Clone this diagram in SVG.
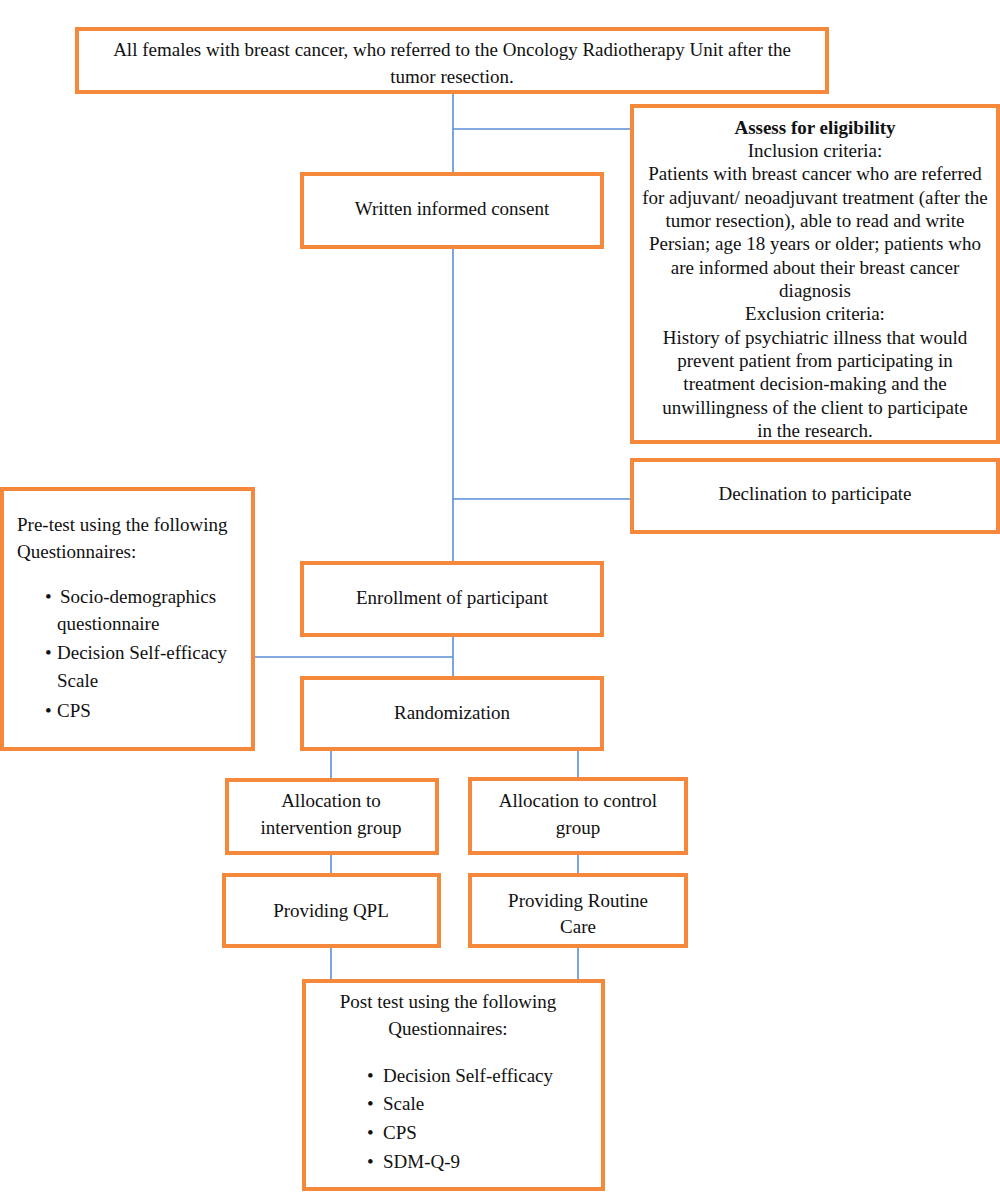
<svg xmlns="http://www.w3.org/2000/svg" width="1000" height="1192" viewBox="0 0 1000 1192">
<style>
.box{fill:#fff;stroke:#F5883A;stroke-width:4}
.t{font-family:"Liberation Serif","DejaVu Serif",serif;font-size:19px;fill:#111}
.c{text-anchor:middle}
.b{font-weight:bold}
.ln{stroke:#5B8FD6;stroke-width:1.6;fill:none}
</style>
<rect width="1000" height="1192" fill="#fff"/>
<g id="connectors">
<path class="ln" d="M453 92V563M453 129H632M453 499H632M453 635V678M253 657H453M331 749V780M578 749V780M331 853V875M578 853V875M331 946V981M578 946V981"/>
</g>
<g id="n-top">
<rect class="box" x="77" y="29" width="750" height="63"/>
<text class="t c" x="452" y="56">All females with breast cancer, who referred to the Oncology Radiotherapy Unit after the</text>
<text class="t c" x="452" y="83">tumor resection.</text>
</g>
<g id="n-elig">
<rect class="box" x="632" y="106" width="366" height="336"/>
<text class="t c" x="815" y="134"><tspan class="b">Assess for eligibility</tspan></text>
<text class="t c" x="815" y="157">Inclusion criteria:</text>
<text class="t c" x="815" y="180">Patients with breast cancer who are referred</text>
<text class="t c" x="815" y="204">for adjuvant/ neoadjuvant treatment (after the</text>
<text class="t c" x="815" y="227">tumor resection), able to read and write</text>
<text class="t c" x="815" y="250">Persian; age 18 years or older; patients who</text>
<text class="t c" x="815" y="274">are informed about their breast cancer</text>
<text class="t c" x="815" y="297">diagnosis</text>
<text class="t c" x="815" y="320">Exclusion criteria:</text>
<text class="t c" x="815" y="344">History of psychiatric illness that would</text>
<text class="t c" x="815" y="367">prevent patient from participating in</text>
<text class="t c" x="815" y="390">treatment decision-making and the</text>
<text class="t c" x="815" y="414">unwillingness of the client to participate</text>
<text class="t c" x="815" y="437">in the research.</text>
</g>
<g id="n-consent">
<rect class="box" x="302" y="174" width="300" height="73"/>
<text class="t c" x="452" y="215">Written informed consent</text>
</g>
<g id="n-decl">
<rect class="box" x="632" y="460" width="366" height="72"/>
<text class="t c" x="815" y="500">Declination to participate</text>
</g>
<g id="n-pretest">
<rect class="box" x="2" y="489" width="251" height="260"/>
<text class="t" x="17" y="531">Pre-test using the following</text>
<text class="t" x="17" y="558">Questionnaires:</text>
<text class="t" x="45" y="603">•</text><text class="t" x="60" y="603">Socio-demographics</text>
<text class="t" x="57" y="630">questionnaire</text>
<text class="t" x="45" y="659">•</text><text class="t" x="57" y="659">Decision Self-efficacy</text>
<text class="t" x="57" y="687">Scale</text>
<text class="t" x="45" y="717">•</text><text class="t" x="57" y="717">CPS</text>
</g>
<g id="n-enroll">
<rect class="box" x="302" y="563" width="300" height="72"/>
<text class="t c" x="452" y="604">Enrollment of participant</text>
</g>
<g id="n-random">
<rect class="box" x="302" y="678" width="300" height="71"/>
<text class="t c" x="452" y="719">Randomization</text>
</g>
<g id="n-alloc-int">
<rect class="box" x="227" y="780" width="210" height="73"/>
<text class="t c" x="331" y="807">Allocation to</text>
<text class="t c" x="331" y="834">intervention group</text>
</g>
<g id="n-alloc-ctl">
<rect class="box" x="470" y="779" width="216" height="74"/>
<text class="t c" x="578" y="807">Allocation to control</text>
<text class="t c" x="578" y="834">group</text>
</g>
<g id="n-qpl">
<rect class="box" x="224" y="875" width="215" height="71"/>
<text class="t c" x="331" y="917">Providing QPL</text>
</g>
<g id="n-routine">
<rect class="box" x="470" y="875" width="216" height="71"/>
<text class="t c" x="578" y="907">Providing Routine</text>
<text class="t c" x="578" y="933">Care</text>
</g>
<g id="n-posttest">
<rect class="box" x="304" y="981" width="299" height="208"/>
<text class="t c" x="448" y="1008">Post test using the following</text>
<text class="t c" x="448" y="1035">Questionnaires:</text>
<text class="t" x="367" y="1082">•</text><text class="t" x="383" y="1082">Decision Self-efficacy</text>
<text class="t" x="367" y="1110">•</text><text class="t" x="383" y="1110">Scale</text>
<text class="t" x="367" y="1139">•</text><text class="t" x="383" y="1139">CPS</text>
<text class="t" x="367" y="1168">•</text><text class="t" x="383" y="1168">SDM-Q-9</text>
</g>
</svg>
